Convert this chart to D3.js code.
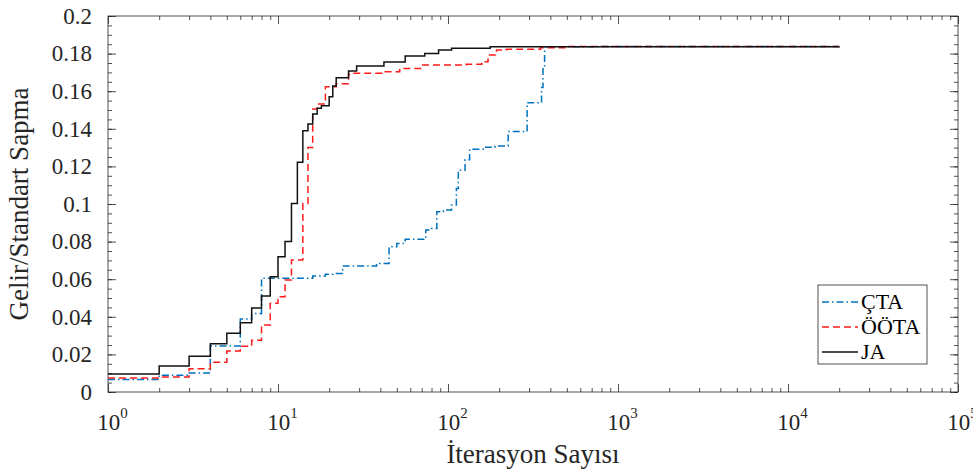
<!DOCTYPE html>
<html>
<head>
<meta charset="utf-8">
<script src="https://cdn.jsdelivr.net/npm/d3@7"></script>
<style>
  body { margin: 0; background: #fff; }
  svg text { font-family: "Liberation Serif", "DejaVu Serif", serif !important; }
</style>
</head>
<body>
<script>
"use strict";

// x tick decades and exponent labels
var xTicks = [1, 10, 100, 1000, 10000, 100000];
var xTickExp = ["0", "1", "2", "3", "4", "5"];
var yTicks = [0, 0.02, 0.04, 0.06, 0.08, 0.1, 0.12, 0.14, 0.16, 0.18, 0.2];
var yTickLabels = ["0", "0.02", "0.04", "0.06", "0.08", "0.1", "0.12", "0.14", "0.16", "0.18", "0.2"];

var seriesNames = ["ÇTA", "ÖÖTA", "JA"];

// ÇTA
var ctaIter = [1, 2, 3, 4, 6, 7, 8, 16, 19, 21, 24, 38, 45, 50, 56, 74, 80, 86, 94, 105, 112, 115, 126, 134, 161, 189, 226, 292, 350, 355, 362, 370, 800, 20000];
var ctaVal  = [0.0067, 0.0089, 0.0101, 0.0245, 0.0388, 0.0418, 0.0605, 0.0617, 0.0626, 0.0630, 0.0670, 0.0684, 0.0773, 0.0790, 0.0812, 0.0862, 0.0870, 0.0959, 0.0968, 0.0995, 0.1083, 0.1180, 0.1235, 0.1291, 0.1302, 0.1309, 0.1385, 0.1539, 0.1544, 0.1620, 0.1720, 0.1837, 0.1838, 0.1838];

// ÖÖTA
var ootaIter = [1, 2, 3, 4, 5, 6, 7, 8, 9, 10, 11, 12, 14, 15, 16, 17, 19, 22, 26, 27, 41, 52, 70, 128, 158, 172, 193, 220, 350, 500, 20000];
var ootaVal  = [0.0074, 0.0080, 0.0124, 0.0158, 0.0218, 0.0243, 0.0275, 0.0356, 0.0472, 0.0507, 0.0596, 0.0702, 0.1003, 0.1300, 0.1505, 0.1532, 0.1624, 0.1640, 0.1690, 0.1695, 0.1704, 0.1721, 0.1739, 0.1743, 0.1757, 0.1793, 0.1819, 0.1823, 0.1831, 0.1838, 0.1838];

// JA
var jaIter = [1, 2, 3, 4, 5, 6, 7, 8, 9, 10, 11, 12, 13, 14, 15, 16, 17, 18, 20, 21, 22, 26, 29, 42, 56, 73, 88, 105, 177, 20000];
var jaVal  = [0.0096, 0.0138, 0.0190, 0.0257, 0.0312, 0.0369, 0.0447, 0.0510, 0.0613, 0.0720, 0.0800, 0.1003, 0.1222, 0.1390, 0.1425, 0.1479, 0.1509, 0.1523, 0.1570, 0.1628, 0.1672, 0.1708, 0.1734, 0.1755, 0.1787, 0.1801, 0.1819, 0.1828, 0.1837, 0.1838];

var width = 973, height = 474;
var margin = {top: 16, right: 15, bottom: 82, left: 108};
var axisColor = "#262626";
var serif = "Liberation Serif, DejaVu Serif, serif";

var svg = d3.select("body").append("svg")
    .attr("width", width)
    .attr("height", height)
    .attr("font-family", serif);

var x = d3.scaleLog().domain([1, 100000]).range([margin.left, width - margin.right]);
var y = d3.scaleLinear().domain([0, 0.2]).range([height - margin.bottom, margin.top]);

// minor tick positions
var xMinor = [];
for (var dec = 1; dec < 100000; dec *= 10) {
    for (var m = 2; m < 10; m++) xMinor.push(dec * m);
}
var yMinor = d3.range(0, 0.2001, 0.005);

function styleAxis(g) {
    g.attr("font-family", serif);
    g.select(".domain").remove();
    g.selectAll(".tick line").attr("stroke", axisColor).attr("stroke-width", 0.8);
}

var x0 = x.range()[0], x1 = x.range()[1];
var y0 = y.range()[0], y1 = y.range()[1];

// bottom axis
svg.append("g")
    .attr("transform", "translate(0," + y0 + ")")
    .call(d3.axisBottom(x).tickValues(xMinor).tickSize(-4).tickFormat(""))
    .call(styleAxis);
var xAxis = svg.append("g")
    .attr("transform", "translate(0," + y0 + ")")
    .call(d3.axisBottom(x).tickValues(xTicks).tickSize(-8).tickFormat(""))
    .call(styleAxis);
xAxis.selectAll(".tick").each(function(d, i) {
    var t = d3.select(this).append("text")
        .attr("fill", axisColor)
        .attr("font-size", 23)
        .attr("text-anchor", "middle")
        .attr("x", 4)
        .attr("y", 38);
    t.append("tspan").text("10");
    t.append("tspan").attr("font-size", 15).attr("dy", -12).text(xTickExp[i]);
});

// top axis
svg.append("g")
    .attr("transform", "translate(0," + y1 + ")")
    .call(d3.axisTop(x).tickValues(xMinor).tickSize(-4).tickFormat(""))
    .call(styleAxis);
svg.append("g")
    .attr("transform", "translate(0," + y1 + ")")
    .call(d3.axisTop(x).tickValues(xTicks).tickSize(-8).tickFormat(""))
    .call(styleAxis);

// left axis
svg.append("g")
    .attr("transform", "translate(" + x0 + ",0)")
    .call(d3.axisLeft(y).tickValues(yMinor).tickSize(-4).tickFormat(""))
    .call(styleAxis);
svg.append("g")
    .attr("transform", "translate(" + x0 + ",0)")
    .call(d3.axisLeft(y).tickValues(yTicks).tickSize(-8).tickPadding(16)
        .tickFormat(function(d, i) { return yTickLabels[i]; }))
    .call(styleAxis)
    .selectAll("text")
    .attr("fill", axisColor)
    .attr("font-size", 23);

// right axis
svg.append("g")
    .attr("transform", "translate(" + x1 + ",0)")
    .call(d3.axisRight(y).tickValues(yMinor).tickSize(-4).tickFormat(""))
    .call(styleAxis);
svg.append("g")
    .attr("transform", "translate(" + x1 + ",0)")
    .call(d3.axisRight(y).tickValues(yTicks).tickSize(-8).tickFormat(""))
    .call(styleAxis);

// box
svg.append("rect")
    .attr("x", x0).attr("y", y1)
    .attr("width", x1 - x0).attr("height", y0 - y1)
    .attr("fill", "none")
    .attr("stroke", axisColor)
    .attr("stroke-width", 0.8);

// series
var series = [
    {name: seriesNames[0], iter: ctaIter, val: ctaVal, color: "#0072bd", dash: "7,3,1.5,3"},
    {name: seriesNames[1], iter: ootaIter, val: ootaVal, color: "#ff1a1a", dash: "7,4"},
    {name: seriesNames[2], iter: jaIter, val: jaVal, color: "#111111", dash: null}
];

var line = d3.line()
    .x(function(d) { return x(d[0]); })
    .y(function(d) { return y(d[1]); })
    .curve(d3.curveStepAfter);

series.forEach(function(s) {
    var pts = s.iter.map(function(n, i) { return [n, s.val[i]]; });
    svg.append("path")
        .datum(pts)
        .attr("d", line)
        .attr("fill", "none")
        .attr("stroke", s.color)
        .attr("stroke-width", 1.5)
        .attr("stroke-dasharray", s.dash);
});

// legend
var legend = svg.append("g").attr("transform", "translate(818,285)");
legend.append("rect")
    .attr("width", 109).attr("height", 79)
    .attr("fill", "#fff")
    .attr("stroke", axisColor)
    .attr("stroke-width", 0.8);
series.forEach(function(s, i) {
    var ly = 17 + i * 25;
    legend.append("line")
        .attr("x1", 4).attr("x2", 40)
        .attr("y1", ly).attr("y2", ly)
        .attr("stroke", s.color)
        .attr("stroke-width", 1.5)
        .attr("stroke-dasharray", s.dash);
    legend.append("text")
        .attr("x", 43).attr("y", ly + 7)
        .attr("font-size", 22)
        .attr("fill", "#000")
        .text(s.name);
});

// axis labels
svg.append("text")
    .attr("x", (x0 + x1) / 2)
    .attr("y", 463)
    .attr("text-anchor", "middle")
    .attr("font-size", 27)
    .attr("fill", axisColor)
    .text("İterasyon Sayısı");

svg.append("text")
    .attr("transform", "translate(28," + ((y0 + y1) / 2) + ") rotate(-90)")
    .attr("text-anchor", "middle")
    .attr("font-size", 27)
    .attr("fill", axisColor)
    .text("Gelir/Standart Sapma");
</script>
</body>
</html>
